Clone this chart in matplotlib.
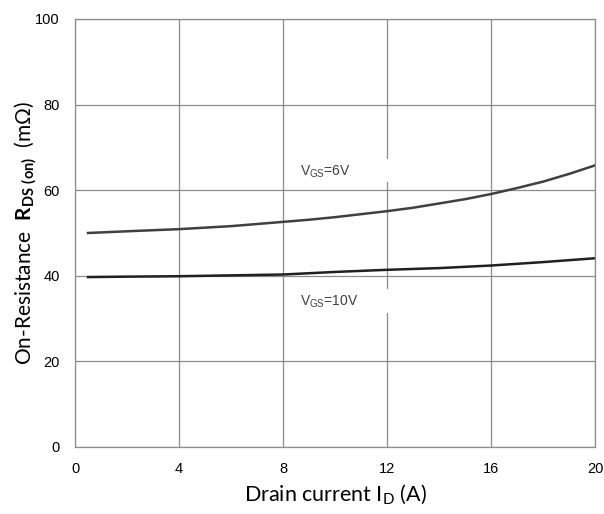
import numpy as np
import matplotlib.pyplot as plt
from matplotlib.patches import Rectangle

# Datos
id_6v = [0.5, 2, 4, 6, 8, 9, 10, 11, 12, 13, 14, 15, 16, 17, 18, 19, 20]
rds_6v = [50.0, 50.4, 50.9, 51.6, 52.6, 53.1, 53.7, 54.4, 55.1, 55.9, 56.9,
          57.9, 59.1, 60.5, 62.0, 63.8, 65.8]
id_10v = [0.5, 2, 4, 6, 8, 10, 12, 14, 16, 18, 20]
rds_10v = [39.7, 39.8, 39.9, 40.1, 40.3, 40.9, 41.4, 41.8, 42.4, 43.2, 44.1]
xticks = [0, 4, 8, 12, 16, 20]
yticks = [0, 20, 40, 60, 80, 100]

plt.rcParams['mathtext.fontset'] = 'custom'
plt.rcParams['mathtext.rm'] = 'Lato'
plt.rcParams['mathtext.bf'] = 'Lato:bold'

fig = plt.figure(figsize=(6.04, 5.14), dpi=100)
ax = fig.add_axes([75/604, 67/514, 520/604, 428/514])

ax.plot(id_6v, rds_6v, color='#404040', lw=1.8)
ax.plot(id_10v, rds_10v, color='#202020', lw=1.8)

ax.set_xlim(0, 20)
ax.set_ylim(0, 100)
ax.set_xticks(xticks)
ax.set_yticks(yticks)
ax.tick_params(length=0, pad=11, labelsize=10.5)
for lab in ax.get_xticklabels() + ax.get_yticklabels():
    lab.set_family('Liberation Sans')
ax.grid(color='#8c8c8c', lw=0.9)
ax.set_axisbelow(True)
for s in ax.spines.values():
    s.set_color('#8c8c8c')
    s.set_linewidth(0.9)

# Cajas blancas de las etiquetas
ax.add_patch(Rectangle((8.3, 61.8), 3.8, 5.5, facecolor='white', edgecolor='none', zorder=1.5))
ax.add_patch(Rectangle((8.3, 31.3), 3.8, 5.5, facecolor='white', edgecolor='none', zorder=1.5))
ax.text(8.65, 64.3, r'V$_{\mathregular{GS}}$=6V', fontsize=10, family='Liberation Sans',
        color='#404040', va='center', zorder=3)
ax.text(8.65, 33.9, r'V$_{\mathregular{GS}}$=10V', fontsize=10, family='Liberation Sans',
        color='#404040', va='center', zorder=3)

ax.set_xlabel('Drain current I$_{\\mathregular{D}}$ (A)', fontsize=15.5, family='Lato', labelpad=5)
ax.set_ylabel(r'On-Resistance  $\mathbf{R}_{\mathbf{DS\ (on)}}$  (mΩ)', fontsize=15,
              family='Lato', labelpad=-3)

plt.savefig('out.png', dpi=100)
